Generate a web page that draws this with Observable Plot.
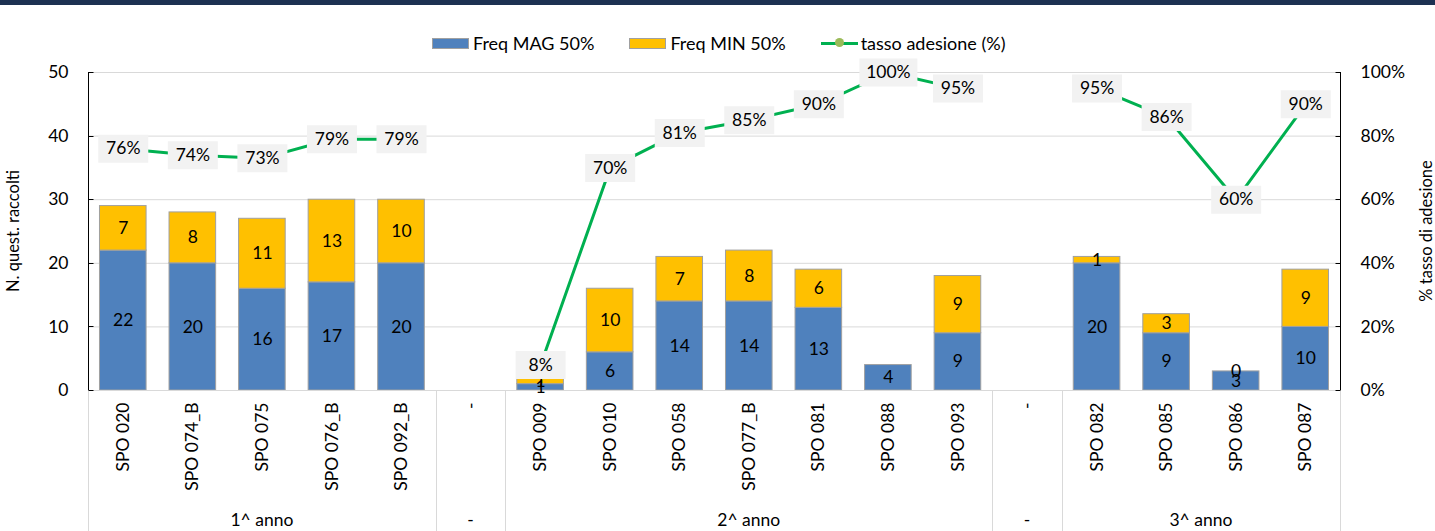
<!DOCTYPE html>
<html><head><meta charset="utf-8">
<script src="https://cdn.jsdelivr.net/npm/d3@7"></script>
<script src="https://cdn.jsdelivr.net/npm/@observablehq/plot@0.6"></script>
<style>
body{margin:0;background:#fff;font-family:Lato,"Open Sans",sans-serif;}
#wrap{position:relative;width:1435px;height:531px;overflow:hidden;background:#fff;}
#topbar{position:absolute;left:0;top:0;width:1435px;height:5px;background:#1d3152;}
#legend{position:absolute;top:32px;left:432px;display:flex;align-items:center;font-size:18px;color:#000;white-space:nowrap;}
#legend .item{display:flex;align-items:center;margin-right:35px;}
#legend .sw{width:37px;height:11px;margin-right:4px;box-sizing:border-box;border:1px solid #a0a0a0;}
#legend .ln{position:relative;width:37px;height:3px;background:#00b050;margin-right:3px;}
#legend .ln::after{content:"";position:absolute;left:14px;top:-3.5px;width:9px;height:9px;border-radius:50%;background:#9bbb59;}
#chart{position:absolute;top:58px;left:0;}
</style></head>
<body>
<div id="wrap">
  <div id="topbar"></div>
  <div id="legend"></div>
  <div id="chart"></div>
</div>
<script>
// ---- data ----
const categories = ["SPO 020","SPO 074_B","SPO 075","SPO 076_B","SPO 092_B","-","SPO 009","SPO 010","SPO 058","SPO 077_B","SPO 081","SPO 088","SPO 093","-","SPO 082","SPO 085","SPO 086","SPO 087"];
const freqMag = [22,20,16,17,20,null,1,6,14,14,13,4,9,null,20,9,3,10];
const freqMin = [7,8,11,13,10,null,1,10,7,8,6,null,9,null,1,3,0,9];
const tassoAdesione = [76,74,73,79,79,null,8,70,81,85,90,100,95,null,95,86,60,90];
const groupLabels = ["1^ anno","-","2^ anno","-","3^ anno"];
const groupSizes = [5,1,7,1,4];
const seriesNames = ["Freq MAG 50%","Freq MIN 50%"];
const seriesColors = ["#4f81bd","#ffc000"];
const lineName = "tasso adesione (%)";
const leftTicks = [0,10,20,30,40,50];
const rightTicks = [0,20,40,60,80,100];
const leftTitle = "N. quest. raccolti";
const rightTitle = "% tasso di adesione";

const FS = 17.5;

// ---- legend ----
const legend = document.getElementById("legend");
seriesNames.forEach((n,i)=>{
  const it = document.createElement("div"); it.className="item";
  it.innerHTML = `<div class="sw" style="background:${seriesColors[i]}"></div><span>${n}</span>`;
  legend.appendChild(it);
});
{
  const it = document.createElement("div"); it.className="item";
  it.innerHTML = `<div class="ln"></div><span>${lineName}</span>`;
  legend.appendChild(it);
}

// ---- tables ----
const keys = d3.range(categories.length);
const bars = [];
keys.forEach(k=>{
  if (freqMag[k] != null) bars.push({k, series: seriesNames[0], v: freqMag[k]});
  if (freqMin[k] != null) bars.push({k, series: seriesNames[1], v: freqMin[k]});
});
const pctToY = p => p / 2; // 100% on the right axis = 50 on the left axis
const rates = keys.map(k=>({k, v: tassoAdesione[k]}));
const rateLabels = rates.filter(d=>d.v != null);

const box = w => ({draw(ctx){ ctx.rect(-w/2, -14, w, 28); }});

function categoryAxis(index, scales, values, dims) {
  const x = scales.x;
  const bw = x.bandwidth ? x.bandwidth() : 0;
  const step = x.step ? x.step() : bw;
  const half = (step - bw) / 2;
  const yb = dims.height - dims.marginBottom;
  const g = d3.create("svg:g");
  const n = categories.length;
  const edge = b => b < n ? x(b) - half : x(n-1) + bw + half;
  let acc = 0;
  const bounds = [0];
  groupSizes.forEach(s=>{acc += s; bounds.push(acc);});
  bounds.forEach(b=>{
    const px = Math.round(edge(b)) + 0.5;
    g.append("line").attr("x1",px).attr("x2",px).attr("y1",yb).attr("y2",dims.height).attr("stroke","#d9d9d9");
  });
  groupLabels.forEach((lab,i)=>{
    const cx = (edge(bounds[i]) + edge(bounds[i+1])) / 2;
    g.append("text").attr("x",cx).attr("y",dims.height - 5).attr("text-anchor","middle")
      .attr("font-size",FS).attr("fill","#000").text(lab);
  });
  const lx = dims.marginLeft + 0.5, rx = dims.width - dims.marginRight + 0.5;
  [lx, rx].forEach(px=>{
    g.append("line").attr("x1",px).attr("x2",px).attr("y1",dims.marginTop).attr("y2",yb).attr("stroke","#000");
  });
  leftTicks.forEach(t=>{
    const py = Math.round(scales.y(t)) + 0.5;
    g.append("line").attr("x1",lx).attr("x2",lx+5).attr("y1",py).attr("y2",py).attr("stroke","#000");
  });
  rightTicks.forEach(t=>{
    const py = Math.round(scales.y(pctToY(t))) + 0.5;
    g.append("line").attr("x1",rx-5).attr("x2",rx).attr("y1",py).attr("y2",py).attr("stroke","#000");
  });
  // axis titles
  const cy = (dims.marginTop + yb) / 2;
  g.append("text").attr("transform",`translate(${dims.marginLeft - 69},${cy}) rotate(-90)`)
    .attr("text-anchor","middle").attr("font-size",16.5).attr("fill","#000").text(leftTitle);
  g.append("text").attr("transform",`translate(${dims.width - dims.marginRight + 92},${cy}) rotate(-90)`)
    .attr("text-anchor","middle").attr("font-size",16.5).attr("fill","#000").text(rightTitle);
  return g.node();
}

const chart = Plot.plot({
  width: 1435, height: 473,
  marginTop: 14, marginBottom: 141, marginLeft: 88, marginRight: 95,
  style: {fontFamily: "Lato, 'Open Sans', sans-serif", fontSize: FS + "px", color: "#000", background: "transparent"},
  x: {domain: keys, paddingInner: 0.33, paddingOuter: 0.165, round: false, axis: null},
  y: {domain: [0, 50], axis: null},
  color: {domain: seriesNames, range: seriesColors},
  marks: [
    Plot.gridY(leftTicks.filter(t=>t>0), {stroke: "#d9d9d9", strokeOpacity: 1}),
    Plot.barY(bars, {x: "k", y: "v", z: "series", fill: "series", stroke: "#a0a0a0", strokeWidth: 1}),
    Plot.ruleY([0], {stroke: "#d9d9d9"}),
    Plot.text(bars, Plot.stackY({x: "k", y: "v", z: "series", text: d=>String(d.v), fontSize: FS, fill: "#000"})),
    Plot.line(rates, {x: "k", y: d => d.v == null ? NaN : pctToY(d.v), stroke: "#00b050", strokeWidth: 3}),
    Plot.dot(rateLabels.filter(d=>String(d.v).length < 3), {x: "k", y: d=>pctToY(d.v), symbol: box(50), fill: "#f2f2f2", stroke: null}),
    Plot.dot(rateLabels.filter(d=>String(d.v).length > 2), {x: "k", y: d=>pctToY(d.v), symbol: box(58), fill: "#f2f2f2", stroke: null}),
    Plot.text(rateLabels, {x: "k", y: d=>pctToY(d.v), text: d=>d.v+"%", fontSize: FS, fill: "#000"}),
    Plot.axisY({anchor: "left", ticks: leftTicks, tickSize: 0, tickPadding: 20, fontSize: FS, label: null}),
    Plot.axisY({anchor: "right", ticks: rightTicks.map(pctToY), tickFormat: d => Math.round(d*2)+"%", tickSize: 0, tickPadding: 20, fontSize: FS, label: null}),
    Plot.axisX({ticks: keys, tickFormat: i => categories[i], tickRotate: -90, tickSize: 0, tickPadding: 12, fontSize: FS, label: null}),
    categoryAxis
  ]
});
document.getElementById("chart").appendChild(chart);
</script>
</body></html>
